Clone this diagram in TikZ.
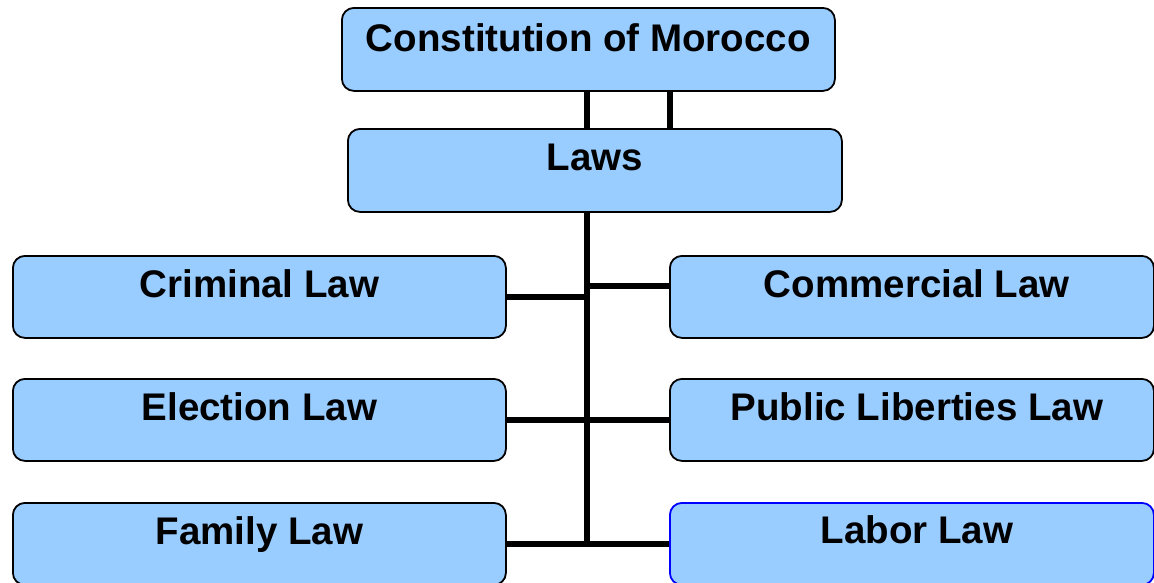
\documentclass[tikz,border=0pt]{standalone}
\usepackage{fontspec}
\setmainfont{Liberation Sans}
\usetikzlibrary{calc}
\definecolor{boxblue}{HTML}{99CCFF}
\begin{document}
\begin{tikzpicture}[x=1pt,y=-1pt,
  box/.style={draw=black, line width=1.8pt, fill=boxblue, rounded corners=12pt,
    anchor=north west, inner sep=0pt, minimum height=82pt},
  lbl/.style={anchor=base, inner sep=0pt, font=\fontsize{38.5}{40}\selectfont\bfseries},
  conn/.style={draw=black, line width=5.5pt}]
\useasboundingbox (0,0) rectangle (1154,582);
\clip (0,0) rectangle (1154,582);
% boxes
\node[box, minimum width=493pt, minimum height=83pt] (const) at (341,7) {};
\node[box, minimum width=494pt, minimum height=83pt] (laws) at (347,128) {};
\node[box, minimum width=493pt] (crim) at (12,255) {};
\node[box, minimum width=484pt] (comm) at (669,255) {};
\node[box, minimum width=493pt] (elec) at (12,378) {};
\node[box, minimum width=484pt] (publ) at (669,378) {};
\node[box, minimum width=493pt] (fam) at (12,502) {};
\node[box, minimum width=484pt, draw=blue] (labor) at (669,502) {};
% labels
\node[lbl] (tconst) at ($(const.north)+(0,44)$) {Constitution of Morocco};
\node[lbl] (tlaws) at ($(laws.north)+(0,42)$) {Laws};
\node[lbl] (tcrim) at ($(crim.north)+(0,42)$) {Criminal Law};
\node[lbl] (tcomm) at ($(comm.north)+(5,42)$) {Commercial Law};
\node[lbl] (telec) at ($(elec.north)+(0,42)$) {Election Law};
\node[lbl] (tpubl) at ($(publ.north)+(5,42)$) {Public Liberties Law};
\node[lbl] (tfam) at ($(fam.north)+(0,42)$) {Family Law};
\node[lbl] (tlabor) at ($(labor.north)+(5,41)$) {Labor Law};
% connectors
\coordinate (tk) at (587,0);
\coordinate (r2) at (670,0);
\coordinate (cy) at (0,286);
\draw[conn] (const.south -| tk) -- (laws.north -| tk);
\draw[conn] (const.south -| r2) -- (laws.north -| r2);
\draw[conn] (laws.south -| tk) -- (fam.east -| tk);
\draw[conn] (crim.east) -- (crim.east -| tk);
\draw[conn] (comm.west |- cy) -- (tk |- cy);
\draw[conn] (elec.east) -- (publ.west);
\draw[conn] (fam.east) -- (labor.west);
\end{tikzpicture}
\end{document}
